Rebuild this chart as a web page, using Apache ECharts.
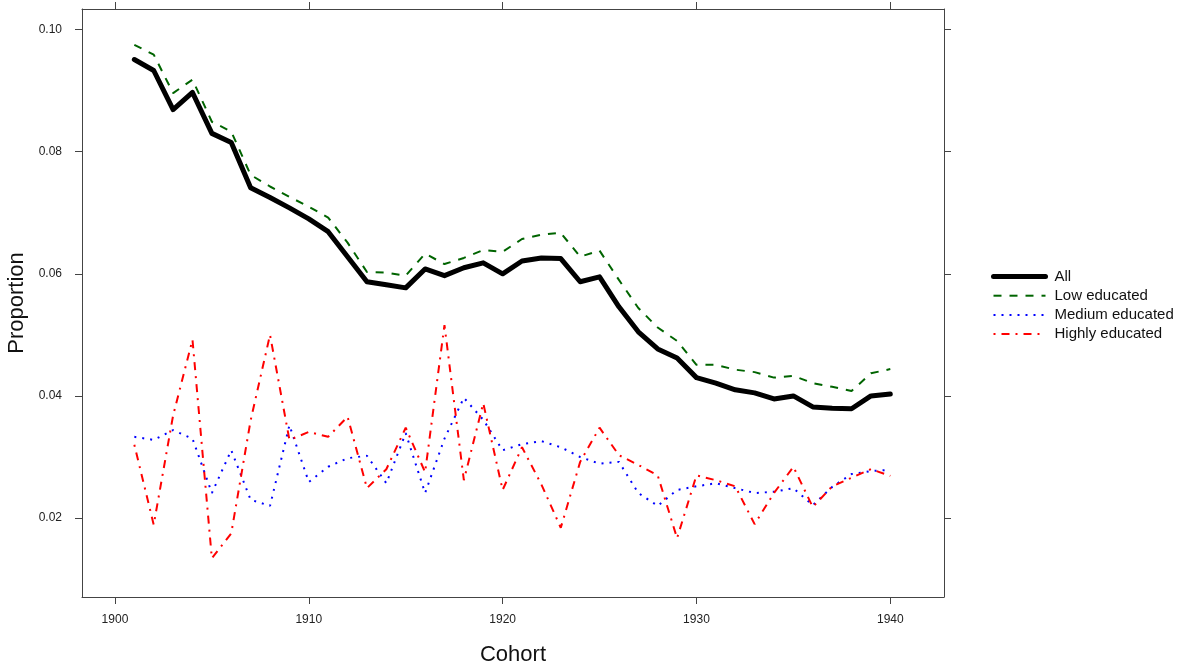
<!DOCTYPE html>
<html>
<head>
<meta charset="utf-8">
<script src="https://cdn.jsdelivr.net/npm/echarts@6/dist/echarts.min.js"></script>
<style>
html,body{margin:0;padding:0;background:#fff;}
#chart{width:1191px;height:666px;}
</style>
</head>
<body>
<div id="chart"></div>
<script>
const years = [1901,1902,1903,1904,1905,1906,1907,1908,1909,1910,
               1911,1912,1913,1914,1915,1916,1917,1918,1919,1920,
               1921,1922,1923,1924,1925,1926,1927,1928,1929,1930,
               1931,1932,1933,1934,1935,1936,1937,1938,1939,1940];

const allEdu = [0.0951,0.0933,0.0869,0.0897,0.0830,0.0815,0.0741,0.0725,0.0708,0.0690,
                0.0669,0.0628,0.0587,0.0582,0.0577,0.0608,0.0597,0.0610,0.0618,0.0600,
                0.0621,0.0626,0.0625,0.0587,0.0595,0.0546,0.0505,0.0477,0.0462,0.0430,
                0.0421,0.0410,0.0405,0.0395,0.0400,0.0382,0.0380,0.0379,0.0400,0.0403];

const lowEdu = [0.0975,0.0959,0.0896,0.0918,0.0849,0.0833,0.0762,0.0743,0.0726,0.0710,
                0.0692,0.0651,0.0603,0.0602,0.0597,0.0633,0.0616,0.0626,0.0639,0.0636,
                0.0657,0.0664,0.0667,0.0628,0.0638,0.0590,0.0544,0.0512,0.0490,0.0451,
                0.0451,0.0443,0.0439,0.0430,0.0433,0.0421,0.0415,0.0408,0.0437,0.0444];

const medEdu = [0.0333,0.0328,0.0344,0.0330,0.0241,0.0311,0.0230,0.0220,0.0352,0.0259,
                0.0284,0.0298,0.0302,0.0257,0.0339,0.0241,0.0330,0.0397,0.0361,0.0311,
                0.0321,0.0326,0.0316,0.0300,0.0289,0.0292,0.0241,0.0220,0.0246,0.0252,
                0.0257,0.0249,0.0241,0.0243,0.0249,0.0221,0.0251,0.0272,0.0277,0.0279];

const highEdu = [0.0320,0.0189,0.0368,0.0492,0.0134,0.0175,0.0360,0.0500,0.0328,0.0341,
                 0.0333,0.0366,0.0249,0.0280,0.0348,0.0275,0.0516,0.0262,0.0388,0.0246,
                 0.0316,0.0255,0.0184,0.0292,0.0348,0.0303,0.0287,0.0270,0.0167,0.0270,
                 0.0262,0.0252,0.0190,0.0241,0.0284,0.0218,0.0252,0.0266,0.0280,0.0269];

const xTicks = [1900,1910,1920,1930,1940];
const yTicks = [0.02,0.04,0.06,0.08,0.10];
const seriesNames = ['All','Low educated','Medium educated','Highly educated'];

const pair = arr => years.map((y,i)=>[y,arr[i]]);

const X_MIN = 1898.3, X_MAX = 1942.77;
const Y_MIN = 0.00707, Y_MAX = 0.10337;
const axisColor = '#444';
const labelColor = '#222';
const FONT = 'Liberation Sans, Arial, sans-serif';

const chart = echarts.init(document.getElementById('chart'), null, {renderer:'canvas'});

function xAxisDef(pos, showLabel, name){
  return {
    type:'value', position:pos, min:X_MIN, max:X_MAX,
    name: name || '', nameLocation:'middle', nameGap:47,
    nameTextStyle:{fontFamily:FONT, fontSize:22, color:'#111'},
    axisLine:{show:true, onZero:false, lineStyle:{color:axisColor, width:1}},
    axisTick:{show:true, inside:false, length:7, customValues:xTicks, lineStyle:{color:axisColor}},
    axisLabel:{show:showLabel, customValues:xTicks, margin:17, fontSize:12,
               fontFamily:FONT, color:labelColor,
               formatter: v => String(Math.round(v))},
    splitLine:{show:false}
  };
}
function yAxisDef(pos, showLabel, name){
  return {
    type:'value', position:pos, min:Y_MIN, max:Y_MAX,
    name: name || '', nameLocation:'middle', nameGap:53, nameRotate:90,
    nameTextStyle:{fontFamily:FONT, fontSize:22, color:'#111'},
    axisLine:{show:true, onZero:false, lineStyle:{color:axisColor, width:1}},
    axisTick:{show:true, inside:false, length:7, customValues:yTicks, lineStyle:{color:axisColor}},
    axisLabel:{show:showLabel, customValues:yTicks, margin:20, fontSize:12,
               fontFamily:FONT, color:labelColor,
               formatter: v => v.toFixed(2)},
    splitLine:{show:false}
  };
}

const legendWidths = [5, 2, 2, 2];

const option = {
  backgroundColor:'#fff',
  animation:false,
  grid:{left:82, right:247, top:9, bottom:69, containLabel:false, outerBoundsMode:'none'},
  xAxis:[xAxisDef('bottom', true, 'Cohort'), xAxisDef('top', false)],
  yAxis:[yAxisDef('left', true, 'Proportion'), yAxisDef('right', false)],
  legend:{
    orient:'vertical', left:986, top:264, itemWidth:52, itemHeight:14, itemGap:4.2,
    itemStyle:{opacity:0, borderWidth:0},
    textStyle:{fontFamily:FONT, fontSize:15, color:'#111', padding:[0,0,0,4]},
    data:seriesNames.map((n,i)=>({name:n, lineStyle:{width:legendWidths[i]}, itemStyle:{opacity:0}}))
  },
  series:[
    {name:seriesNames[0], type:'line', data:pair(allEdu), symbol:'none', z:5,
     lineStyle:{color:'#000', width:5, type:'solid', join:'round', cap:'round'}, itemStyle:{color:'#000'}},
    {name:seriesNames[1], type:'line', data:pair(lowEdu), symbol:'none', z:4,
     lineStyle:{color:'#006400', width:2, type:[8,8]}, itemStyle:{color:'#006400'}},
    {name:seriesNames[2], type:'line', data:pair(medEdu), symbol:'none', z:3,
     lineStyle:{color:'#0000ff', width:2, type:[2,6]}, itemStyle:{color:'#0000ff'}},
    {name:seriesNames[3], type:'line', data:pair(highEdu), symbol:'none', z:3,
     lineStyle:{color:'#ff0000', width:2, type:[2,6,8,6]}, itemStyle:{color:'#ff0000'}}
  ]
};
chart.setOption(option);
</script>
</body>
</html>
